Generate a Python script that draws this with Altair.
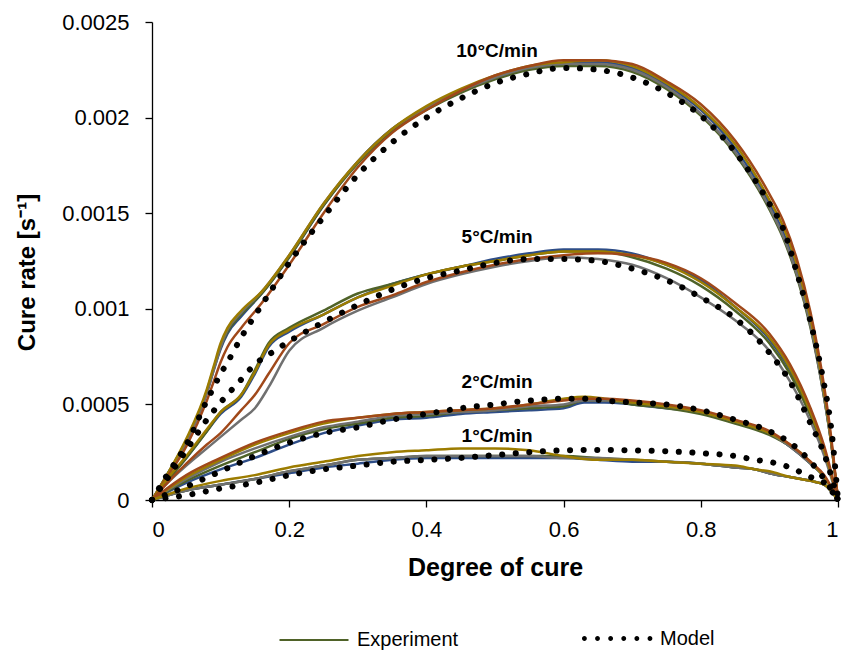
import altair as alt
import pandas as pd

# ---------------- data ----------------
RUNS = ["a_blue", "b_green", "c_gray", "d_gold", "e_brown"]
RUN_COLORS = ["#2E4D87", "#4F6228", "#707070", "#9C7C00", "#A0481A"]

# 10 °C/min
X10 = [0, 0.02, 0.05, 0.08, 0.09, 0.1, 0.11, 0.13, 0.16, 0.2, 0.25, 0.3, 0.35, 0.4, 0.45, 0.5,
       0.55, 0.6, 0.65, 0.7, 0.75, 0.8, 0.85, 0.9, 0.92, 0.94, 0.96, 0.98, 0.99, 1.0]
E10_BLUE = [0, 0.00012, 0.00031, 0.00056, 0.00068, 0.00079, 0.00087, 0.00096, 0.00108, 0.00127,
            0.00154, 0.00177, 0.00194, 0.00205, 0.00214, 0.00221, 0.00226, 0.00228, 0.00229,
            0.00226, 0.00217, 0.00204, 0.00184, 0.00155, 0.00140, 0.00120, 0.00092, 0.00054,
            0.00030, 0]
E10_GREEN = [0, 0.00012, 0.00031, 0.00057, 0.00069, 0.00080, 0.00088, 0.00097, 0.00108, 0.00127,
             0.00154, 0.00176, 0.00193, 0.00204, 0.00213, 0.00220, 0.00225, 0.00227, 0.00227,
             0.00224, 0.00215, 0.00201, 0.00181, 0.00152, 0.00137, 0.00117, 0.00090, 0.00053,
             0.00030, 0]
E10_GRAY = [0, 0.00011, 0.00030, 0.00056, 0.00068, 0.00080, 0.00089, 0.00098, 0.00109, 0.00128,
            0.00155, 0.00177, 0.00194, 0.00205, 0.00214, 0.00221, 0.00226, 0.00228, 0.00228,
            0.00225, 0.00216, 0.00202, 0.00182, 0.00153, 0.00138, 0.00118, 0.00091, 0.00053,
            0.00030, 0]
E10_GOLD = [0, 0.00012, 0.00032, 0.00058, 0.00070, 0.00082, 0.00090, 0.00099, 0.00109, 0.00128,
            0.00155, 0.00177, 0.00194, 0.00206, 0.00215, 0.00222, 0.00227, 0.00229, 0.00230,
            0.00227, 0.00218, 0.00205, 0.00186, 0.00157, 0.00143, 0.00123, 0.00095, 0.00056,
            0.00031, 0]
E10_BROWN = [0, 0.00011, 0.00028, 0.00052, 0.00062, 0.00072, 0.00080, 0.00090, 0.00103, 0.00123,
             0.00150, 0.00174, 0.00192, 0.00204, 0.00214, 0.00222, 0.00227, 0.00230, 0.00230,
             0.00228, 0.00219, 0.00207, 0.00188, 0.00160, 0.00146, 0.00126, 0.00098, 0.00059,
             0.00033, 0]
M10 = [0, 0.00012, 0.00029, 0.00052, 0.00059, 0.00066, 0.00072, 0.00085, 0.00102, 0.00124,
       0.00148, 0.00170, 0.00187, 0.00200, 0.00210, 0.00218, 0.00223, 0.00226, 0.00225,
       0.00221, 0.00213, 0.00201, 0.00182, 0.00155, 0.00142, 0.00119, 0.00093, 0.00060,
       0.00038, 0]

# 5 °C/min
X5 = [0, 0.02, 0.05, 0.08, 0.1, 0.13, 0.15, 0.17, 0.2, 0.25, 0.3, 0.35, 0.4, 0.45, 0.5,
      0.55, 0.6, 0.65, 0.7, 0.75, 0.8, 0.85, 0.9, 0.93, 0.96, 0.98, 1.0]
E5_BLUE = [0, 0.00009, 0.00022, 0.00036, 0.00045, 0.00054, 0.00066, 0.00080, 0.00088, 0.00097,
           0.00106, 0.00113, 0.00118, 0.00122, 0.00126, 0.00129, 0.00131, 0.00131, 0.00129,
           0.00123, 0.00115, 0.00101, 0.00084, 0.00068, 0.00045, 0.00026, 0]
E5_GREEN = [0, 0.00009, 0.00022, 0.00036, 0.00046, 0.00055, 0.00068, 0.00082, 0.00090, 0.00099,
            0.00108, 0.00113, 0.00118, 0.00122, 0.00125, 0.00128, 0.00130, 0.00130, 0.00127,
            0.00121, 0.00112, 0.00099, 0.00082, 0.00066, 0.00044, 0.00025, 0]
E5_GRAY = [0, 0.00008, 0.00018, 0.00027, 0.00033, 0.00042, 0.00048, 0.00059, 0.00078, 0.00090,
           0.00099, 0.00106, 0.00113, 0.00118, 0.00122, 0.00125, 0.00127, 0.00126, 0.00123,
           0.00116, 0.00106, 0.00094, 0.00078, 0.00062, 0.00041, 0.00023, 0]
E5_GOLD = [0, 0.00010, 0.00023, 0.00037, 0.00046, 0.00055, 0.00067, 0.00081, 0.00089, 0.00097,
           0.00106, 0.00112, 0.00118, 0.00122, 0.00125, 0.00128, 0.00130, 0.00130, 0.00128,
           0.00123, 0.00114, 0.00101, 0.00085, 0.00069, 0.00046, 0.00026, 0]
E5_BROWN = [0, 0.00008, 0.00019, 0.00029, 0.00035, 0.00047, 0.00055, 0.00066, 0.00082, 0.00092,
            0.00101, 0.00107, 0.00114, 0.00119, 0.00123, 0.00126, 0.00128, 0.00129, 0.00128,
            0.00124, 0.00116, 0.00103, 0.00087, 0.00071, 0.00048, 0.00028, 0]
M5 = [0, 0.00010, 0.00026, 0.00042, 0.00051, 0.00063, 0.00071, 0.00076, 0.00083, 0.00093,
      0.00102, 0.00110, 0.00116, 0.00120, 0.00124, 0.00126, 0.00126, 0.00125, 0.00121,
      0.00115, 0.00106, 0.00095, 0.00077, 0.00062, 0.00040, 0.00024, 0]

# 2 °C/min
X2 = [0, 0.05, 0.1, 0.15, 0.2, 0.25, 0.3, 0.35, 0.4, 0.45, 0.5, 0.55, 0.6, 0.63, 0.66,
      0.7, 0.75, 0.8, 0.85, 0.9, 0.93, 0.96, 0.98, 1.0]
E2_BLUE = [0, 0.00009, 0.00016, 0.00022, 0.00029, 0.00035, 0.00039, 0.00042, 0.00043, 0.00045,
           0.00046, 0.00047, 0.00048, 0.00051, 0.00051, 0.00050, 0.00048, 0.00046, 0.00041,
           0.00035, 0.00028, 0.00019, 0.00012, 0]
E2_GREEN = [0, 0.00010, 0.00018, 0.00025, 0.00032, 0.00037, 0.00040, 0.00043, 0.00044, 0.00046,
            0.00047, 0.00048, 0.00049, 0.00052, 0.00052, 0.00050, 0.00048, 0.00045, 0.00040,
            0.00034, 0.00028, 0.00019, 0.00012, 0]
E2_GRAY = [0, 0.00011, 0.00020, 0.00027, 0.00033, 0.00038, 0.00041, 0.00044, 0.00045, 0.00046,
           0.00047, 0.00049, 0.00050, 0.00052, 0.00052, 0.00051, 0.00049, 0.00046, 0.00041,
           0.00035, 0.00028, 0.00019, 0.00012, 0]
E2_GOLD = [0, 0.00012, 0.00021, 0.00029, 0.00035, 0.00040, 0.00043, 0.00045, 0.00046, 0.00047,
           0.00048, 0.00050, 0.00053, 0.00054, 0.00053, 0.00051, 0.00049, 0.00046, 0.00041,
           0.00035, 0.00029, 0.00020, 0.00012, 0]
E2_BROWN = [0, 0.00013, 0.00022, 0.00030, 0.00036, 0.00041, 0.00043, 0.00045, 0.00046, 0.00047,
            0.00048, 0.00050, 0.00052, 0.00053, 0.00053, 0.00052, 0.00050, 0.00047, 0.00042,
            0.00036, 0.00029, 0.00020, 0.00013, 0]
M2 = [0, 0.00007, 0.00015, 0.00023, 0.00030, 0.00035, 0.00038, 0.00042, 0.00045, 0.00048,
      0.00050, 0.00052, 0.00053, 0.00053, 0.00052, 0.00051, 0.00050, 0.00047, 0.00042,
      0.00036, 0.00030, 0.00020, 0.00011, 0]

# 1 °C/min
X1 = [0, 0.05, 0.1, 0.15, 0.2, 0.25, 0.3, 0.35, 0.4, 0.45, 0.5, 0.55, 0.6, 0.65, 0.7,
      0.75, 0.8, 0.85, 0.88, 0.9, 0.93, 0.96, 0.98, 1.0]
E1_BLUE = [0, 0.00005, 0.00008, 0.00011, 0.00014, 0.00017, 0.00019, 0.00021, 0.00022, 0.00022,
           0.00022, 0.00022, 0.00022, 0.00021, 0.00020, 0.00020, 0.00019, 0.00017, 0.00016,
           0.00014, 0.00012, 0.00010, 0.00008, 0]
E1_GREEN = [0, 0.00005, 0.00008, 0.00011, 0.00015, 0.00018, 0.00021, 0.00022, 0.00023, 0.00023,
            0.00023, 0.00023, 0.00023, 0.00022, 0.00021, 0.00020, 0.00019, 0.00017, 0.00016,
            0.00014, 0.00012, 0.00010, 0.00008, 0]
E1_GRAY = [0, 0.00005, 0.00008, 0.00011, 0.00015, 0.00018, 0.00021, 0.00022, 0.00023, 0.00023,
           0.00023, 0.00023, 0.00022, 0.00022, 0.00021, 0.00020, 0.00019, 0.00017, 0.00016,
           0.00014, 0.00012, 0.00010, 0.00008, 0]
E1_GOLD = [0, 0.00006, 0.00010, 0.00013, 0.00017, 0.00020, 0.00023, 0.00025, 0.00026, 0.00027,
           0.00027, 0.00026, 0.00023, 0.00021, 0.00021, 0.00020, 0.00019, 0.00018, 0.00016,
           0.00015, 0.00012, 0.00010, 0.00008, 0]
M1 = [0, 0.000025, 0.00006, 0.00009, 0.00013, 0.00016, 0.00018, 0.00020, 0.00021, 0.00022,
      0.000235, 0.00025, 0.00026, 0.000262, 0.00026, 0.000255, 0.000245, 0.00023, 0.00021,
      0.00020, 0.00017, 0.00012, 0.00009, 0]

RATE_LABELS = ["10°C/min", "5°C/min", "2°C/min", "1°C/min"]
LABEL_X = [0.503, 0.503, 0.503, 0.503]
LABEL_Y = [0.002317, 0.001344, 0.000586, 0.000303]

X_TICKS = [0, 0.2, 0.4, 0.6, 0.8, 1]
Y_TICKS = [0, 0.0005, 0.001, 0.0015, 0.002, 0.0025]

# ---------------- build tables ----------------
experiments = [
    ("10", X10, [E10_BLUE, E10_GREEN, E10_GRAY, E10_GOLD, E10_BROWN]),
    ("5", X5, [E5_BLUE, E5_GREEN, E5_GRAY, E5_GOLD, E5_BROWN]),
    ("2", X2, [E2_BLUE, E2_GREEN, E2_GRAY, E2_GOLD, E2_BROWN]),
    ("1", X1, [E1_BLUE, E1_GREEN, E1_GRAY, E1_GOLD]),
]
models = [("10", X10, M10), ("5", X5, M5), ("2", X2, M2), ("1", X1, M1)]

exp_rows = []
for rate, xs, curves in experiments:
    for run, ys in zip(RUNS, curves):
        for i, (xv, yv) in enumerate(zip(xs, ys)):
            exp_rows.append({"rate": rate, "run": run, "series": rate + "_" + run,
                             "x": xv, "y": yv, "i": i, "exp_kind": "Experiment"})
exp_df = pd.DataFrame(exp_rows)

mod_rows = []
for rate, xs, ys in models:
    for i, (xv, yv) in enumerate(zip(xs, ys)):
        mod_rows.append({"rate": rate, "x": xv, "y": yv, "i": i, "model_kind": "Model"})
mod_df = pd.DataFrame(mod_rows)

lab_df = pd.DataFrame({"x": LABEL_X, "y": LABEL_Y, "label": RATE_LABELS})

# legend glyph for the model: a row of six dots (unit-square symbol path)
_r = 0.07
DOTS_PATH = "".join(
    f"M{cx - _r:.3f},0A{_r},{_r},0,1,0,{cx + _r:.3f},0A{_r},{_r},0,1,0,{cx - _r:.3f},0Z"
    for cx in [-0.93, -0.55, -0.17, 0.21, 0.59, 0.97]
)

FONT = "Liberation Sans"

x_enc = alt.X("x:Q", scale=alt.Scale(domain=[0, 1], nice=False, zero=True),
              axis=alt.Axis(values=X_TICKS, format="~g", title="Degree of cure",
                            titleFontSize=25, titleBaseline="alphabetic", titleY=75,
                            labelPadding=12))
y_enc = alt.Y("y:Q", scale=alt.Scale(domain=[0, 0.0025], nice=False, zero=True),
              axis=alt.Axis(values=Y_TICKS, format="~g", title="Cure rate [s⁻¹]",
                            titleFontSize=24, titleX=-118, titleY=250,
                            titleBaseline="alphabetic", labelPadding=16))

exp_layer = alt.Chart(exp_df).mark_line(strokeWidth=2.5, interpolate="monotone").encode(
    x=x_enc, y=y_enc, order="i:Q", detail="series:N",
    stroke=alt.Stroke("run:N", scale=alt.Scale(domain=RUNS, range=RUN_COLORS), legend=None),
    opacity=alt.Opacity("exp_kind:N", scale=alt.Scale(domain=["Experiment"], range=[1]),
                        legend=alt.Legend(title=None, orient="none", legendX=126, legendY=582,
                                          symbolType="stroke", symbolSize=4761,
                                          symbolStrokeColor="#4F6228", symbolStrokeWidth=2.2,
                                          labelFont=FONT, labelFontSize=20, labelColor="black",
                                          labelOffset=7, padding=0)),
)

model_layer = alt.Chart(mod_df).mark_line(strokeDash=[0.1, 13.5], strokeCap="round", strokeWidth=6,
                                          color="black", interpolate="monotone").encode(
    x=x_enc, y=y_enc, order="i:Q", detail="rate:N",
)

# invisible points that only carry the "Model" legend entry
model_legend = alt.Chart(mod_df).mark_point(filled=True, opacity=0, color="black").encode(
    x=alt.X("x:Q"), y=alt.Y("y:Q"),
    shape=alt.Shape("model_kind:N", scale=alt.Scale(domain=["Model"], range=[DOTS_PATH]),
                    legend=alt.Legend(title=None, orient="none", legendX=430, legendY=582,
                                      symbolSize=4761, symbolFillColor="black",
                                      symbolStrokeColor="black", symbolStrokeWidth=0,
                                      symbolOpacity=1,
                                      labelFont=FONT, labelFontSize=20, labelColor="black",
                                      labelOffset=9, padding=0)),
)

text_layer = alt.Chart(lab_df).mark_text(font=FONT, fontSize=19, fontWeight="bold", color="black",
                                         align="center", baseline="alphabetic").encode(
    x=alt.X("x:Q"), y=alt.Y("y:Q"), text="label:N")

chart = alt.layer(exp_layer, model_layer, model_legend, text_layer).properties(
    width=686, height=478,
    autosize=alt.AutoSizeParams(type="none"),
    padding={"left": 152, "top": 22, "right": 4, "bottom": 150},
).configure_view(stroke=None).configure_axis(
    domainColor="black", domainWidth=1.3, tickColor="black", tickWidth=1.3, tickSize=7,
    labelFont=FONT, labelFontSize=22, labelColor="black",
    titleFont=FONT, titleColor="black", titleFontWeight="bold", grid=False,
)

chart.save("out.html", embed_options={"renderer": "svg", "actions": False})
